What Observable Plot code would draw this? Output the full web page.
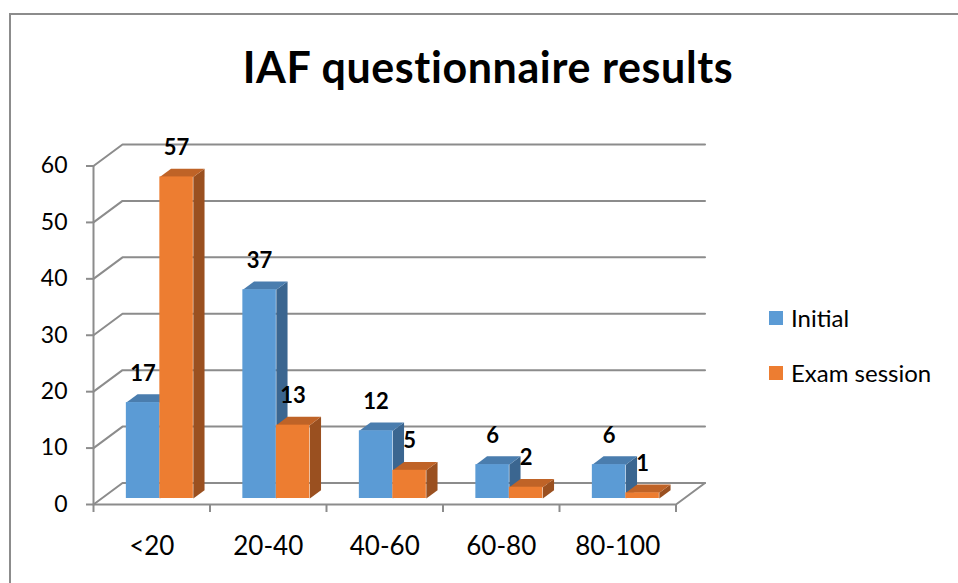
<!DOCTYPE html>
<html>
<head>
<meta charset="utf-8">
<script src="https://cdn.jsdelivr.net/npm/d3@7"></script>
<script src="https://cdn.jsdelivr.net/npm/@observablehq/plot@0.6"></script>
<style>
  html, body { margin: 0; padding: 0; background: #fff; }
  #wrap { position: relative; width: 958px; height: 583px; overflow: hidden; font-family: Lato, "Open Sans", sans-serif; }
  #frame { position: absolute; left: 9px; top: 13px; width: 1000px; height: 1000px; border-top: 2px solid #8c8c8c; border-left: 2px solid #8c8c8c; box-sizing: border-box; }
  #title { position: absolute; left: 0; top: 0; width: 976px; height: 110px; text-align: center; font-weight: 700; font-size: 43px; letter-spacing: 0.6px; line-height: 1; padding-top: 45px; box-sizing: border-box; color: #000; }
  #chart { position: absolute; left: 0; top: 110px; }
  .leg { position: absolute; left: 769px; display: flex; align-items: center; font-size: 24px; color: #000; }
  .sw { width: 14px; height: 14px; margin-right: 8px; }
</style>
</head>
<body>
<div id="wrap">
  <div id="frame"></div>
  <div id="title">IAF questionnaire results</div>
  <div id="chart"></div>
  <div class="leg" style="top:303px"><div class="sw" style="background:#5B9BD5"></div><span>Initial</span></div>
  <div class="leg" style="top:358px"><div class="sw" style="background:#ED7D31"></div><span>Exam session</span></div>
</div>
<script>
// ---- data ----
const categories = ["<20", "20-40", "40-60", "60-80", "80-100"];
const initial = [17, 37, 12, 6, 6];
const examSession = [57, 13, 5, 2, 1];
const seriesNames = ["Initial", "Exam session"];
const yTicks = [0, 10, 20, 30, 40, 50, 60];

// ---- 3D projection helpers (depth expressed in data units) ----
const DX = 0.249, DY = 3.81;   // full depth of the floor
const T0 = 0.279, T1 = 0.665;  // depth slice occupied by the bars
const BW = 0.2875;              // bar width in category units
const n = categories.length;

const colors = {
  "Initial": {front: "#5B9BD5", top: "#4A7DAE", side: "#3B6690"},
  "Exam session": {front: "#ED7D31", top: "#BF6327", side: "#9A5020"}
};

const bars = [];
categories.forEach((c, i) => {
  [initial[i], examSession[i]].forEach((v, s) => {
    const x1 = i + 0.5 - BW + s * BW, x2 = x1 + BW;
    bars.push({cat: c, series: seriesNames[s], v, x1, x2, id: `${i}-${s}`});
  });
});

const tops = [], sides = [];
for (const b of bars) {
  const col = colors[b.series];
  tops.push(
    {id: b.id, x: b.x1 + T0 * DX, y: b.v + T0 * DY, fill: col.top},
    {id: b.id, x: b.x2 + T0 * DX, y: b.v + T0 * DY, fill: col.top},
    {id: b.id, x: b.x2 + T1 * DX, y: b.v + T1 * DY, fill: col.top},
    {id: b.id, x: b.x1 + T1 * DX, y: b.v + T1 * DY, fill: col.top}
  );
  sides.push(
    {id: b.id, x: b.x2 + T0 * DX, y: T0 * DY, fill: col.side},
    {id: b.id, x: b.x2 + T1 * DX, y: T1 * DY, fill: col.side},
    {id: b.id, x: b.x2 + T1 * DX, y: b.v + T1 * DY, fill: col.side},
    {id: b.id, x: b.x2 + T0 * DX, y: b.v + T0 * DY, fill: col.side}
  );
}

// gridlines: left wall diagonal + back wall horizontal
const grid = [];
for (const v of yTicks) {
  grid.push({g: "g" + v, x: 0, y: v}, {g: "g" + v, x: DX, y: v + DY}, {g: "g" + v, x: n + DX, y: v + DY});
}
grid.push({g: "floor", x: 0, y: 0}, {g: "floor", x: n, y: 0}, {g: "floor", x: n + DX, y: DY});
grid.push({g: "axis", x: 0, y: 0}, {g: "axis", x: 0, y: 60});

const xTicks = d3.range(0, n + 1);

const chart = Plot.plot({
  width: 958,
  height: 473,
  marginLeft: 93,
  marginRight: 282.5,
  marginTop: 55.5,
  marginBottom: 79,
  x: {type: "linear", domain: [0, n], axis: null},
  y: {type: "linear", domain: [0, 60], axis: null},
  style: {fontFamily: "Lato, 'Open Sans', sans-serif", background: "transparent", overflow: "visible"},
  marks: [
    Plot.line(grid, {x: "x", y: "y", z: "g", stroke: "#8c8c8c", strokeWidth: 2}),
    Plot.axisY({ticks: yTicks, label: null, tickSize: 7, tickPadding: 19, fontSize: 23, stroke: "#8c8c8c", strokeWidth: 2, fill: "#000"}),
    Plot.axisX({ticks: xTicks, label: null, tickSize: 8, tickFormat: () => "", stroke: "#8c8c8c", strokeWidth: 2}),
    Plot.text(categories, {x: (d, i) => i + 0.5, y: 0, text: d => d, dy: 42, fontSize: 26, fill: "#000"}),
    Plot.line(sides, {x: "x", y: "y", z: "id", fill: "fill", stroke: null}),
    Plot.line(tops, {x: "x", y: "y", z: "id", fill: "fill", stroke: null}),
    Plot.rect(bars, {
      x1: d => d.x1 + T0 * DX, x2: d => d.x2 + T0 * DX,
      y1: T0 * DY, y2: d => d.v + T0 * DY,
      fill: d => colors[d.series].front
    }),
    Plot.text(bars, {
      x: d => (d.x1 + d.x2) / 2 + T0 * DX, y: d => d.v + T0 * DY,
      text: d => String(d.v), dy: -29, fontSize: 22, fontWeight: 700, fill: "#000"
    })
  ]
});
document.getElementById("chart").appendChild(chart);
</script>
</body>
</html>
